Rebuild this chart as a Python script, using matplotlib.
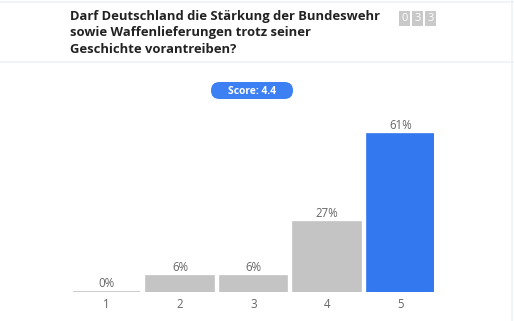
import matplotlib
matplotlib.use("Agg")
import matplotlib.pyplot as plt
from matplotlib.patches import FancyBboxPatch, Rectangle

categories = ["1", "2", "3", "4", "5"]
values = [0, 6, 6, 27, 61]
labels = ["0%", "6%", "6%", "27%", "61%"]
title = "Darf Deutschland die Stärkung der Bundeswehr\nsowie Waffenlieferungen trotz seiner\nGeschichte vorantreiben?"
score_text = "Score: 4.4"
counter_digits = ["0", "3", "3"]

plt.rcParams['font.family'] = ['Open Sans', 'DejaVu Sans']

W, H = 514, 321
fig = plt.figure(figsize=(W/100, H/100), dpi=100)
fig.patch.set_facecolor("white")

# overlay in pixel coordinates
ov = fig.add_axes([0, 0, 1, 1])
ov.set_xlim(0, W)
ov.set_ylim(H, 0)
ov.axis("off")

line_c = "#edf1f6"
ov.plot([0, W], [2, 2], color=line_c, lw=1.2)
ov.plot([0, W], [62, 62], color=line_c, lw=1.2)
ov.plot([512, 512], [0, H], color=line_c, lw=1.2)

ov.text(70, 10, title, ha="left", va="top", fontsize=9.35, fontweight="bold",
        color="#222222", linespacing=1.33)

for i, d in enumerate(counter_digits):
    x0 = 399 + i * 13
    ov.add_patch(Rectangle((x0, 11), 11, 15, facecolor="#c9c9c9", edgecolor="none"))
    ov.text(x0 + 5.5, 18.5, d, ha="center", va="center", fontsize=8, color="white")

pl, pt, pw, ph = 211, 82, 82, 17
ov.add_patch(FancyBboxPatch((pl, pt), pw, ph,
                            boxstyle=f"round,pad=0,rounding_size={ph/2}",
                            facecolor="#3d80f4", edgecolor="none"))
ov.text(pl + pw/2, pt + ph/2 + 0.5, score_text, ha="center", va="center", fontsize=7.4,
        fontweight="bold", color="white")

ax = fig.add_axes([73/W, 29/H, 361/W, 259/H])
x = list(range(len(categories)))
colors = ["#c4c4c4"] * (len(values) - 1) + ["#3478f0"]
ax.bar(x, values, width=0.914, color=colors, edgecolor=colors, linewidth=1.2)
ax.set_xlim(-0.457, len(values) - 1 + 0.457)
ax.set_ylim(0, 100)
for xi, v, lab in zip(x, values, labels):
    ax.annotate(lab, (xi, v), xytext=(0, 1.5), textcoords="offset points",
                ha="center", va="bottom", fontsize=8.3, color="#666666")
ax.set_xticks(x)
ax.set_xticklabels(categories, fontsize=8.3, color="#666666")
ax.tick_params(axis="x", length=0, pad=4)
ax.set_yticks([])
for s in ax.spines.values():
    s.set_visible(False)
ax.patch.set_alpha(0)

fig.savefig("out.png", dpi=100, facecolor="white")
